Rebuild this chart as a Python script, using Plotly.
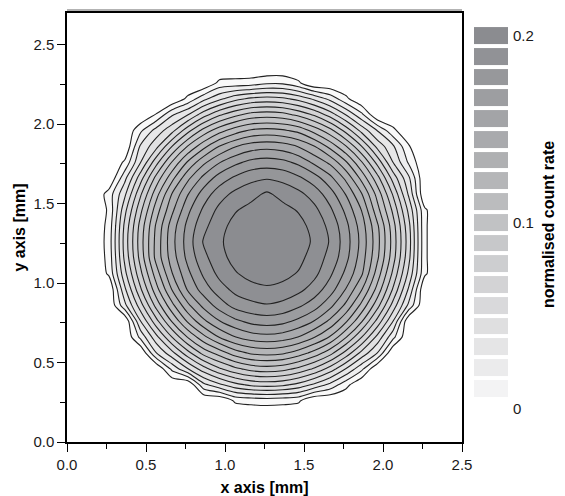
import plotly.graph_objects as go

# grid positions of the scan (mm)
x_mm = [0.165, 0.265, 0.365, 0.465, 0.565, 0.665, 0.765, 0.865, 0.965, 1.065, 1.165, 1.265,
        1.365, 1.465, 1.565, 1.665, 1.765, 1.865, 1.965, 2.065, 2.165, 2.265, 2.365]
y_mm = [0.16, 0.26, 0.36, 0.46, 0.56, 0.66, 0.76, 0.86, 0.96, 1.06, 1.16, 1.26,
        1.36, 1.46, 1.56, 1.66, 1.76, 1.86, 1.96, 2.06, 2.16, 2.26, 2.36]

# normalised count rate, in units of 0.001 (rows = y ascending, cols = x ascending)
count_rate_milli = [
    [0, 0, 0, 0, 0, 0, 0, 0, 0, 0, 0, 0, 0, 0, 0, 0, 0, 0, 0, 0, 0, 0, 0],
    [0, 0, 0, 0, 0, 0, 0, 0, 0, 13, 15, 16, 15, 13, 0, 0, 0, 0, 0, 0, 0, 0, 0],
    [0, 0, 0, 0, 0, 0, 0, 30, 42, 52, 58, 60, 58, 52, 42, 30, 15, 0, 0, 0, 0, 0, 0],
    [0, 0, 0, 0, 0, 25, 44, 62, 76, 86, 93, 95, 93, 86, 76, 62, 44, 25, 0, 0, 0, 0, 0],
    [0, 0, 0, 0, 33, 52, 74, 93, 105, 117, 124, 126, 124, 117, 107, 93, 74, 52, 33, 0, 0, 0, 0],
    [0, 0, 0, 25, 52, 78, 101, 119, 134, 144, 150, 152, 150, 144, 134, 121, 101, 78, 52, 25, 0, 0, 0],
    [0, 0, 0, 44, 74, 101, 124, 142, 155, 164, 170, 172, 170, 164, 155, 142, 124, 101, 74, 44, 0, 0, 0],
    [0, 0, 30, 62, 93, 119, 142, 159, 172, 182, 186, 188, 186, 180, 172, 159, 142, 119, 93, 62, 30, 0, 0],
    [0, 0, 42, 76, 107, 134, 157, 172, 184, 192, 196, 198, 196, 192, 184, 172, 155, 134, 107, 76, 42, 0, 0],
    [0, 13, 52, 86, 117, 144, 164, 180, 192, 199, 204, 206, 204, 199, 192, 180, 164, 146, 117, 86, 52, 13, 0],
    [0, 15, 58, 93, 126, 150, 170, 186, 196, 204, 210, 212, 210, 204, 194, 186, 170, 150, 124, 93, 58, 13, 0],
    [0, 16, 60, 95, 126, 152, 172, 190, 198, 206, 212, 213, 212, 206, 198, 188, 172, 152, 126, 95, 60, 13, 0],
    [0, 15, 58, 93, 124, 150, 170, 186, 196, 204, 210, 212, 210, 204, 196, 186, 170, 150, 124, 93, 58, 13, 0],
    [0, 13, 52, 86, 117, 142, 164, 180, 192, 199, 204, 206, 204, 199, 192, 180, 164, 144, 115, 86, 52, 13, 0],
    [0, 16, 42, 76, 107, 134, 155, 172, 184, 192, 196, 202, 196, 192, 184, 172, 155, 134, 107, 76, 42, 0, 0],
    [0, 0, 30, 62, 93, 119, 142, 159, 172, 180, 186, 188, 186, 180, 172, 159, 142, 119, 93, 62, 35, 0, 0],
    [0, 0, 13, 44, 74, 101, 124, 142, 155, 164, 170, 172, 170, 164, 153, 142, 124, 101, 74, 44, 20, 0, 0],
    [0, 0, 0, 35, 52, 78, 101, 119, 134, 144, 150, 152, 150, 144, 134, 119, 101, 78, 52, 35, 12, 0, 0],
    [0, 0, 0, 20, 38, 52, 74, 93, 107, 117, 124, 126, 124, 119, 107, 93, 74, 52, 33, 14, 0, 0, 0],
    [0, 0, 0, 0, 12, 32, 44, 62, 76, 86, 93, 95, 93, 86, 76, 62, 44, 25, 0, 0, 0, 0, 0],
    [0, 0, 0, 0, 0, 0, 14, 30, 42, 52, 58, 60, 58, 52, 42, 30, 14, 0, 0, 0, 0, 0, 0],
    [0, 0, 0, 0, 0, 0, 0, 0, 14, 15, 16, 20, 20, 13, 0, 0, 0, 0, 0, 0, 0, 0, 0],
    [0, 0, 0, 0, 0, 0, 0, 0, 0, 0, 0, 0, 0, 0, 0, 0, 0, 0, 0, 0, 0, 0, 0],
]

# contour levels: 0.1/9 steps up to 0.2
level_step = 0.1 / 9
level_count = 18
level_max = 0.2
colorbar_ticks = [0, 0.1, 0.2]
colorbar_ticktext = ["0", "0.1", "0.2"]

# band colours: below first level (white), then one per level upwards
band_colors = ["#ffffff", "#f3f3f4", "#ebebec", "#e5e5e6", "#dfdfe0", "#d9d9db", "#d3d3d5",
               "#cdced0", "#c7c8ca", "#c1c2c4", "#bbbcbe", "#b5b6b8", "#afb0b2", "#a9aaad",
               "#a3a4a7", "#9d9ea1", "#97989b", "#919296", "#8b8c90"]

z = [[v / 1000.0 for v in row] for row in count_rate_milli]
levels = [level_step * (k + 1) for k in range(level_count)]
colorscale = [[i / level_count, c] for i, c in enumerate(band_colors)]

FONT = "Liberation Sans, Arial, sans-serif"

fig = go.Figure()
fig.add_trace(go.Contour(
    x=x_mm, y=y_mm, z=z,
    colorscale=colorscale, zmin=0, zmax=level_max,
    autocontour=False,
    contours=dict(start=level_step, end=level_max, size=level_step, coloring="fill"),
    line=dict(color="#222222", width=1.1, smoothing=0.8),
    showscale=False, hoverinfo="skip",
))
fig.add_trace(go.Heatmap(
    x=[0], y=levels, z=[[v] for v in levels],
    colorscale=colorscale, zmin=0, zmax=level_max,
    ygap=4, showscale=False, hoverinfo="skip",
    xaxis="x2", yaxis="y2",
))

axis_common = dict(
    showgrid=False, zeroline=False, showline=True, linecolor="black", linewidth=1.5,
    mirror=True, ticks="outside", ticklen=8, tickwidth=1.3, tickcolor="black",
    tickfont=dict(family=FONT, size=15, color="#1a1a1a"),
    minor=dict(dtick=0.25, ticks="outside", ticklen=5, tickwidth=1.3, tickcolor="black"),
    automargin=False,
)

fig.update_layout(
    width=557, height=488,
    margin=dict(l=59, r=45, t=5, b=54),
    paper_bgcolor="white", plot_bgcolor="white",
    showlegend=False,
    xaxis=dict(domain=[0, 395 / 453], range=[0, 2.5], dtick=0.5, tick0=0, tickformat=".1f",
               title=dict(text="<b>x axis [mm]</b>", font=dict(family=FONT, size=16, color="black"),
                          standoff=10),
               **axis_common),
    yaxis=dict(domain=[0, 1], range=[0, 2.7], dtick=0.5, tick0=0, tickformat=".1f",
               title=dict(text="<b>y axis [mm]</b>", font=dict(family=FONT, size=16, color="black"),
                          standoff=4),
               **axis_common),
    xaxis2=dict(domain=[407 / 453, 441 / 453], range=[-0.5, 0.5], visible=False, anchor="y2"),
    yaxis2=dict(domain=[0, 1], range=[-0.0176, 0.2120], anchor="x2", side="right",
                tickvals=colorbar_ticks, ticktext=colorbar_ticktext, ticks="", showline=False,
                showgrid=False, zeroline=False, ticklabelstandoff=4,
                tickfont=dict(family=FONT, size=15, color="#1a1a1a")),
    shapes=[dict(type="line", xref="paper", yref="paper", x0=0, x1=395 / 453,
                 y0=1 + 3 / 429, y1=1 + 3 / 429, line=dict(color="#9a9a9a", width=1.5))],
    annotations=[dict(text="<b>normalised count rate</b>", textangle=-90, xref="paper", yref="paper",
                      x=(553 - 67 - 5) / 453, y=(442 - 225) / 429, xanchor="center", yanchor="middle",
                      showarrow=False, font=dict(family=FONT, size=16, color="black"))],
)

fig.write_html("out.html")
